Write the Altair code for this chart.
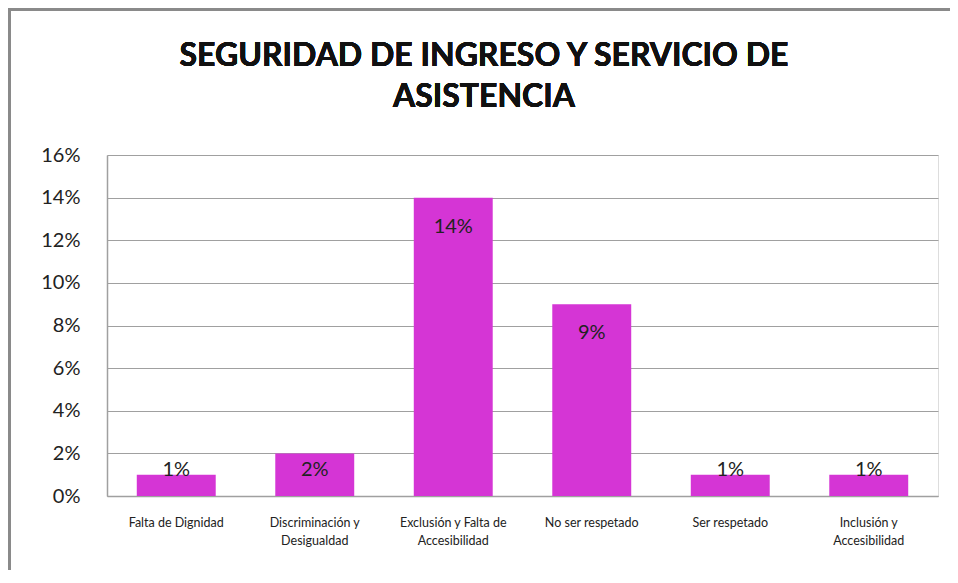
import altair as alt
import pandas as pd

categories = [
    "Falta de Dignidad",
    "Discriminación y\nDesigualdad",
    "Exclusión y Falta de\nAccesibilidad",
    "No ser respetado",
    "Ser respetado",
    "Inclusión y\nAccesibilidad",
]
values = [0.01, 0.02, 0.14, 0.09, 0.01, 0.01]
y_ticks = [0, 0.02, 0.04, 0.06, 0.08, 0.10, 0.12, 0.14, 0.16]
title_lines = ["SEGURIDAD DE INGRESO Y SERVICIO DE", "ASISTENCIA"]

df = pd.DataFrame({"cat": categories, "val": values})
df["lbl"] = [f"{round(v*100)}%" for v in values]
# label centre: inside the bar top, but never lower than ~1.2% line
df["lpos"] = [max(v - 0.0136, 0.0122) for v in values]

FONT = "Lato"
BAR = "#D535D5"
W, H = 831, 341

x = alt.X(
    "cat:N",
    sort=categories,
    title=None,
    scale=alt.Scale(paddingInner=0.43, paddingOuter=0.215),
    axis=alt.Axis(
        labelExpr="split(datum.label, '\\n')",
        labelAngle=0,
        labelFont=FONT,
        labelFontSize=12.5,
        labelColor="#222222",
        labelLineHeight=18,
        labelPadding=26,
        labelBaseline="middle",
        ticks=False,
        domainColor="#A0A0A0",
        domainWidth=1.5,
        grid=False,
    ),
)

bars = alt.Chart(df).mark_bar(color=BAR).encode(
    x=x,
    y=alt.Y(
        "val:Q",
        title=None,
        scale=alt.Scale(domain=[0, 0.16], nice=False),
        axis=alt.Axis(
            values=y_ticks,
            format=".0%",
            labelFont=FONT,
            labelFontSize=20,
            labelColor="#222222",
            labelPadding=27,
            ticks=False,
            domainColor="#A0A0A0",
            domainWidth=1.5,
            gridColor="#A0A0A0",
            gridWidth=1.2,
        ),
    ),
)

labels = alt.Chart(df).mark_text(
    font=FONT, fontSize=20, color="#222222", baseline="middle"
).encode(
    x=alt.X("cat:N", sort=categories),
    y=alt.Y("lpos:Q"),
    text="lbl:N",
)

frame_left = alt.Chart(df).mark_rule(
    color="#8A8A8A", strokeWidth=2.5, clip=False
).encode(x=alt.value(-97.5), y=alt.value(-146.5), y2=alt.value(420))

frame_top = alt.Chart(df).mark_rule(
    color="#8A8A8A", strokeWidth=2.5, clip=False
).encode(y=alt.value(-145.5), x=alt.value(-98.5), x2=alt.value(W + 12))

title1 = alt.Chart(df).mark_text(
    font=FONT, fontSize=32, fontWeight="bold", color="#111111",
    align="center", baseline="alphabetic",
).encode(x=alt.value(377), y=alt.value(-89), text=alt.value(title_lines[0]))

title2 = alt.Chart(df).mark_text(
    font=FONT, fontSize=32, fontWeight="bold", color="#111111",
    align="center", baseline="alphabetic",
).encode(x=alt.value(377), y=alt.value(-48), text=alt.value(title_lines[1]))

chart = alt.layer(frame_left, frame_top, bars, labels, title1, title2).properties(
    width=W,
    height=H,
    autosize=alt.AutoSizeParams(type="none"),
    padding={"left": 99, "top": 147, "right": 12, "bottom": 74},
).configure_view(stroke=None).configure(background="white")

chart.save("out.html", embed_options={"renderer": "svg", "actions": False})
